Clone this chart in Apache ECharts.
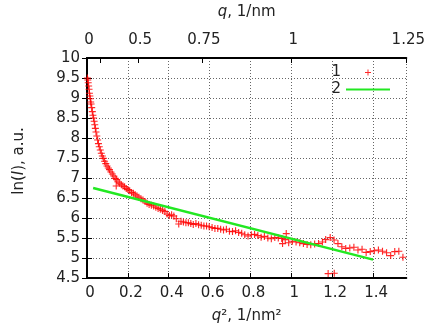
<!DOCTYPE html>
<html>
<head>
<meta charset="utf-8">
<script src="https://cdn.jsdelivr.net/npm/echarts@6/dist/echarts.min.js"></script>
<style>
  html, body { margin: 0; padding: 0; background: #fff; }
  #chart { width: 428px; height: 329px; }
</style>
</head>
<body>
<div id="chart"></div>
<script>
// measured points, q^2 in 1/nm^2 and ln(I)
const q2Values = [
  0.002, 0.004, 0.006, 0.008, 0.010, 0.012, 0.014, 0.016, 0.018, 0.020,
  0.023, 0.026, 0.029, 0.032, 0.035, 0.038, 0.041, 0.044, 0.048, 0.052,
  0.056, 0.060, 0.065, 0.070, 0.075, 0.080, 0.086, 0.092, 0.098, 0.104,
  0.110, 0.117, 0.124, 0.131, 0.138, 0.143, 0.145, 0.152, 0.160, 0.168,
  0.176, 0.184, 0.192, 0.200, 0.209, 0.218, 0.227, 0.236, 0.245, 0.254,
  0.264, 0.274, 0.284, 0.294, 0.304, 0.315, 0.326, 0.337, 0.348, 0.359,
  0.370, 0.381, 0.392, 0.403, 0.414, 0.425, 0.437, 0.449, 0.460, 0.472,
  0.484, 0.496, 0.508, 0.520, 0.533, 0.546, 0.559, 0.572, 0.585, 0.598,
  0.612, 0.626, 0.640, 0.654, 0.668, 0.682, 0.697, 0.712, 0.727, 0.742,
  0.757, 0.772, 0.788, 0.804, 0.820, 0.836, 0.852, 0.868, 0.885, 0.902,
  0.919, 0.936, 0.953, 0.957, 0.970, 0.975, 0.987, 1.005, 1.023, 1.041,
  1.059, 1.077, 1.095, 1.114, 1.133, 1.152, 1.168, 1.180, 1.190, 1.210,
  1.209, 1.228, 1.247, 1.266, 1.286, 1.306, 1.326, 1.346, 1.366,
  1.386, 1.406, 1.426, 1.446, 1.466, 1.486, 1.506, 1.526, 1.546
];
const lnIValues = [
  9.50, 9.45, 9.38, 9.30, 9.22, 9.12, 9.05, 8.98, 8.90, 8.85,
  8.76, 8.66, 8.57, 8.50, 8.42, 8.33, 8.24, 8.15, 8.05, 7.95,
  7.86, 7.78, 7.70, 7.62, 7.55, 7.49, 7.42, 7.36, 7.30, 7.25,
  7.21, 7.15, 7.10, 7.05, 6.99, 6.80, 6.96, 6.90, 6.87, 6.83,
  6.80, 6.78, 6.74, 6.71, 6.68, 6.64, 6.62, 6.58, 6.55, 6.52,
  6.48, 6.45, 6.41, 6.37, 6.34, 6.32, 6.30, 6.27, 6.24, 6.22,
  6.19, 6.16, 6.10, 6.06, 6.08, 6.05, 5.98, 5.85, 5.92, 5.90,
  5.88, 5.88, 5.86, 5.84, 5.86, 5.83, 5.82, 5.80, 5.80, 5.78,
  5.76, 5.74, 5.74, 5.72, 5.70, 5.72, 5.67, 5.66, 5.68, 5.64,
  5.62, 5.58, 5.55, 5.58, 5.59, 5.56, 5.52, 5.54, 5.50, 5.48,
  5.51, 5.50, 5.49, 5.36, 5.46, 5.61, 5.38, 5.42, 5.40, 5.38,
  5.36, 5.34, 5.33, 5.35, 5.36, 5.40, 5.46, 4.61, 5.51, 4.62,
  5.45, 5.36, 5.28, 5.24, 5.25, 5.27, 5.20, 5.22, 5.14, 5.16,
  5.18, 5.20, 5.17, 5.13, 5.06, 5.16, 5.17, 5.02, 5.12
];
// Guinier fit line
const fitQ2 = [0.03, 1.40];
const fitLnI = [6.75, 4.96];

const topLabelQ = [0, 0.5, 0.75, 1, 1.25];
const topTickQ = [0, 0.25, 0.5, 0.75, 1, 1.25];

const font = "DejaVu Sans";
const ink = "#222";
const plusPath = "path://M4.2,0H5.8V4.2H10V5.8H5.8V10H4.2V5.8H0V4.2H4.2Z";

const chart = echarts.init(document.getElementById("chart"), null, { renderer: "canvas" });

const dotted = { show: true, lineStyle: { color: "#666", width: 1, type: [1, 2] } };
const frame = { show: true, lineStyle: { color: "#000", width: 2 } };
const italic = { i: { fontFamily: font, fontSize: 15, fontStyle: "italic", color: ink } };

chart.setOption({
  animation: false,
  backgroundColor: "#fff",
  grid: { left: 87, right: 18, top: 58, bottom: 48 },
  legend: {
    orient: "vertical",
    right: 32,
    top: 60,
    align: "right",
    itemWidth: 44,
    itemHeight: 6,
    itemGap: 2,
    textStyle: { fontFamily: font, fontSize: 15, color: ink },
    // the fit line sample has no point marker
    data: ["1", { name: "2", itemStyle: { opacity: 0 } }]
  },
  xAxis: [
    {
      type: "value",
      position: "bottom",
      min: 0,
      max: 1.5625,
      interval: 0.2,
      name: "{i|q}², 1/nm²",
      nameLocation: "middle",
      nameGap: 31,
      nameTextStyle: { fontFamily: font, fontSize: 15, color: ink, rich: italic },
      axisLine: frame,
      axisTick: { show: true, inside: true, length: 5, lineStyle: { color: "#000", width: 1 } },
      axisLabel: {
        fontFamily: font, fontSize: 15, color: ink, margin: 8,
        showMaxLabel: false, padding: [0, 0, 0, 6]
      },
      splitLine: dotted
    },
    {
      type: "value",
      position: "top",
      min: 0,
      max: 1.5625,
      name: "{i|q}, 1/nm",
      nameLocation: "middle",
      nameGap: 38,
      nameTextStyle: { fontFamily: font, fontSize: 15, color: ink, rich: italic },
      axisLine: frame,
      axisTick: {
        show: true, inside: true, length: 5, lineStyle: { color: "#000", width: 1 },
        customValues: topTickQ.map((q) => q * q)
      },
      axisLabel: {
        fontFamily: font, fontSize: 15, color: ink, margin: 10, padding: [0, 0, 0, 4],
        customValues: topLabelQ.map((q) => q * q),
        formatter: (v) => String(Math.round(Math.sqrt(v) * 100) / 100)
      },
      splitLine: { show: false }
    }
  ],
  yAxis: [
    {
      type: "value",
      position: "left",
      min: 4.5,
      max: 10,
      interval: 0.5,
      name: "ln({i|I}), a.u.",
      nameLocation: "middle",
      nameGap: 60,
      nameTextStyle: { fontFamily: font, fontSize: 15, color: ink, padding: [0, 0, 0, 14], rich: italic },
      axisLine: frame,
      axisTick: { show: true, inside: true, length: 5, lineStyle: { color: "#000", width: 1 } },
      axisLabel: { fontFamily: font, fontSize: 15, color: ink, margin: 7 },
      splitLine: dotted
    },
    {
      type: "value",
      position: "right",
      min: 4.5,
      max: 10,
      interval: 0.5,
      axisLine: frame,
      axisTick: { show: true, inside: true, length: 5, lineStyle: { color: "#000", width: 1 } },
      axisLabel: { show: false },
      splitLine: { show: false }
    }
  ],
  series: [
    {
      name: "1",
      type: "scatter",
      xAxisIndex: 0,
      yAxisIndex: 0,
      symbol: plusPath,
      symbolSize: 7,
      symbolKeepAspect: true,
      itemStyle: { color: "#ff0000", opacity: 0.85 },
      data: q2Values.map((x, i) => [x, lnIValues[i]])
    },
    {
      name: "2",
      type: "line",
      xAxisIndex: 0,
      yAxisIndex: 0,
      symbol: "none",
      lineStyle: { color: "#22e822", width: 2.5 },
      itemStyle: { color: "#22e822" },
      data: fitQ2.map((x, i) => [x, fitLnI[i]])
    }
  ]
});
</script>
</body>
</html>
